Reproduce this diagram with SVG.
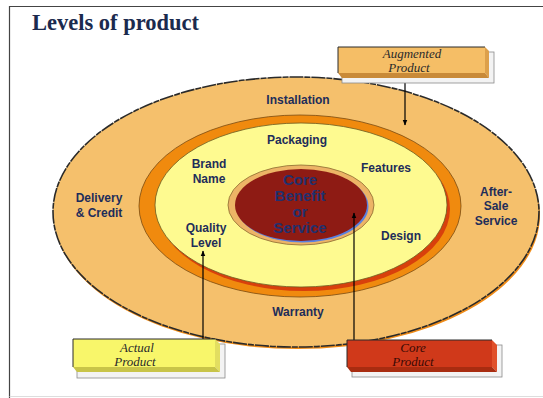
<svg xmlns="http://www.w3.org/2000/svg" width="543" height="398" viewBox="0 0 543 398">
  <defs>
    <marker id="arrow" viewBox="0 0 10 10" refX="9" refY="5" markerWidth="6" markerHeight="6" orient="auto-start-reverse" markerUnits="userSpaceOnUse">
      <path d="M0,1 L10,5 L0,9 Z" fill="#000"/>
    </marker>
  </defs>
  <style>
    .lbl { font-family: "Liberation Sans", Arial, sans-serif; font-weight: bold; font-size: 12px; fill: #1E2D5A; text-anchor: middle; }
    .core { font-family: "Liberation Sans", Arial, sans-serif; font-weight: bold; font-size: 15px; fill: #22306E; text-anchor: middle; }
    .tag { font-family: "Liberation Serif", "Times New Roman", serif; font-style: italic; font-size: 13px; text-anchor: middle; }
    .shadow { fill: #F3F3F3; stroke: #8A8A8A; stroke-width: 0.8; }
    .edge { fill: none; stroke: #2A2A2A; stroke-width: 1; }
    .link { stroke: #000; stroke-width: 1.2; fill: none; }
  </style>

  <rect width="543" height="398" fill="#FFFFFF"/>
  <!-- slide frame -->
  <path d="M9.5,398 V6.5 H543" fill="none" stroke="#444" stroke-width="1.2"/>
  <path d="M9.5,396.5 H543" fill="none" stroke="#DDD" stroke-width="1"/>

  <text x="32" y="30" font-family="'Liberation Serif', 'Times New Roman', serif" font-weight="bold" font-size="22.5" fill="#1B2A4E">Levels of product</text>

  <!-- augmented product ring -->
  <g id="augmented-ring">
    <ellipse cx="297" cy="215" rx="243" ry="134" fill="#F08C18"/>
    <ellipse cx="296" cy="212" rx="243" ry="135" fill="#F5C06C" stroke="#2A2A2A" stroke-width="1.6" stroke-dasharray="14 1 6 1"/>
    <text class="lbl" x="298" y="104">Installation</text>
    <text class="lbl" x="99" y="202">Delivery</text>
    <text class="lbl" x="99" y="217">&amp; Credit</text>
    <text class="lbl" x="496" y="196">After-</text>
    <text class="lbl" x="496" y="210">Sale</text>
    <text class="lbl" x="496" y="225">Service</text>
    <text class="lbl" x="298" y="316">Warranty</text>
  </g>

  <!-- actual product ring -->
  <g id="actual-ring">
    <ellipse cx="300" cy="206" rx="161" ry="91" fill="#F08A0E" stroke="#7A4A10" stroke-width="0.8"/>
    <ellipse cx="304" cy="209" rx="146" ry="82" fill="#D8400C"/>
    <ellipse cx="301" cy="205" rx="146" ry="82" fill="#FEFA90" stroke="#6A5A20" stroke-width="0.8"/>
    <text class="lbl" x="297" y="144">Packaging</text>
    <text class="lbl" x="209" y="168">Brand</text>
    <text class="lbl" x="209" y="183">Name</text>
    <text class="lbl" x="386" y="172">Features</text>
    <text class="lbl" x="206" y="232">Quality</text>
    <text class="lbl" x="206" y="247">Level</text>
    <text class="lbl" x="401" y="240">Design</text>
  </g>

  <!-- core benefit -->
  <g id="core-benefit">
    <ellipse cx="301" cy="205" rx="73" ry="40" fill="#EDB466" stroke="#8A6A30" stroke-width="0.8"/>
    <ellipse cx="302.5" cy="206.5" rx="66" ry="36" fill="#5A80E0"/>
    <ellipse cx="301" cy="205" rx="66" ry="36" fill="#8E1B14"/>
    <text class="core" x="300" y="185">Core</text>
    <text class="core" x="300" y="201">Benefit</text>
    <text class="core" x="300" y="217">or</text>
    <text class="core" x="300" y="233">Service</text>
  </g>

  <!-- connectors -->
  <g id="connectors">
    <line class="link" x1="405" y1="80" x2="405" y2="125" marker-end="url(#arrow)"/>
    <line class="link" x1="203" y1="339" x2="203" y2="251" marker-end="url(#arrow)"/>
    <line class="link" x1="354" y1="340" x2="354" y2="213" marker-end="url(#arrow)"/>
  </g>

  <!-- callout boxes -->
  <g id="augmented-product">
    <rect class="shadow" x="342" y="52" width="152" height="31"/>
    <polygon points="485,47 489,51 489,78 485,73" fill="#DDA04A"/>
    <polygon points="338,73 485,73 489,78 342,78" fill="#C98A38"/>
    <rect x="338" y="47" width="147" height="26" fill="#F5BE66"/>
    <path class="edge" d="M338,73 V47 H485"/>
    <text class="tag" x="412" y="58" fill="#2A2A2A">Augmented</text>
    <text class="tag" x="409" y="72" fill="#2A2A2A">Product</text>
  </g>

  <g id="actual-product">
    <rect class="shadow" x="77" y="344" width="148" height="34"/>
    <polygon points="215,339 220,344 220,372 215,367" fill="#E2DE60"/>
    <polygon points="73,367 215,367 220,372 77,372" fill="#C8C448"/>
    <rect x="73" y="339" width="142" height="28" fill="#F8F66A"/>
    <path class="edge" d="M73,367 V339 H215"/>
    <text class="tag" x="137" y="352" fill="#2A2A2A">Actual</text>
    <text class="tag" x="135" y="366" fill="#2A2A2A">Product</text>
  </g>

  <g id="core-product">
    <rect class="shadow" x="352" y="345" width="150" height="32"/>
    <polygon points="492,340 497,345 497,372 492,367" fill="#E0502A"/>
    <polygon points="347,367 492,367 497,372 351,372" fill="#A82C10"/>
    <rect x="347" y="340" width="145" height="27" fill="#D0391A"/>
    <path class="edge" d="M347,367 V340 H492"/>
    <text class="tag" x="413" y="352" fill="#3A0A05">Core</text>
    <text class="tag" x="413" y="366" fill="#3A0A05">Product</text>
  </g>
</svg>
